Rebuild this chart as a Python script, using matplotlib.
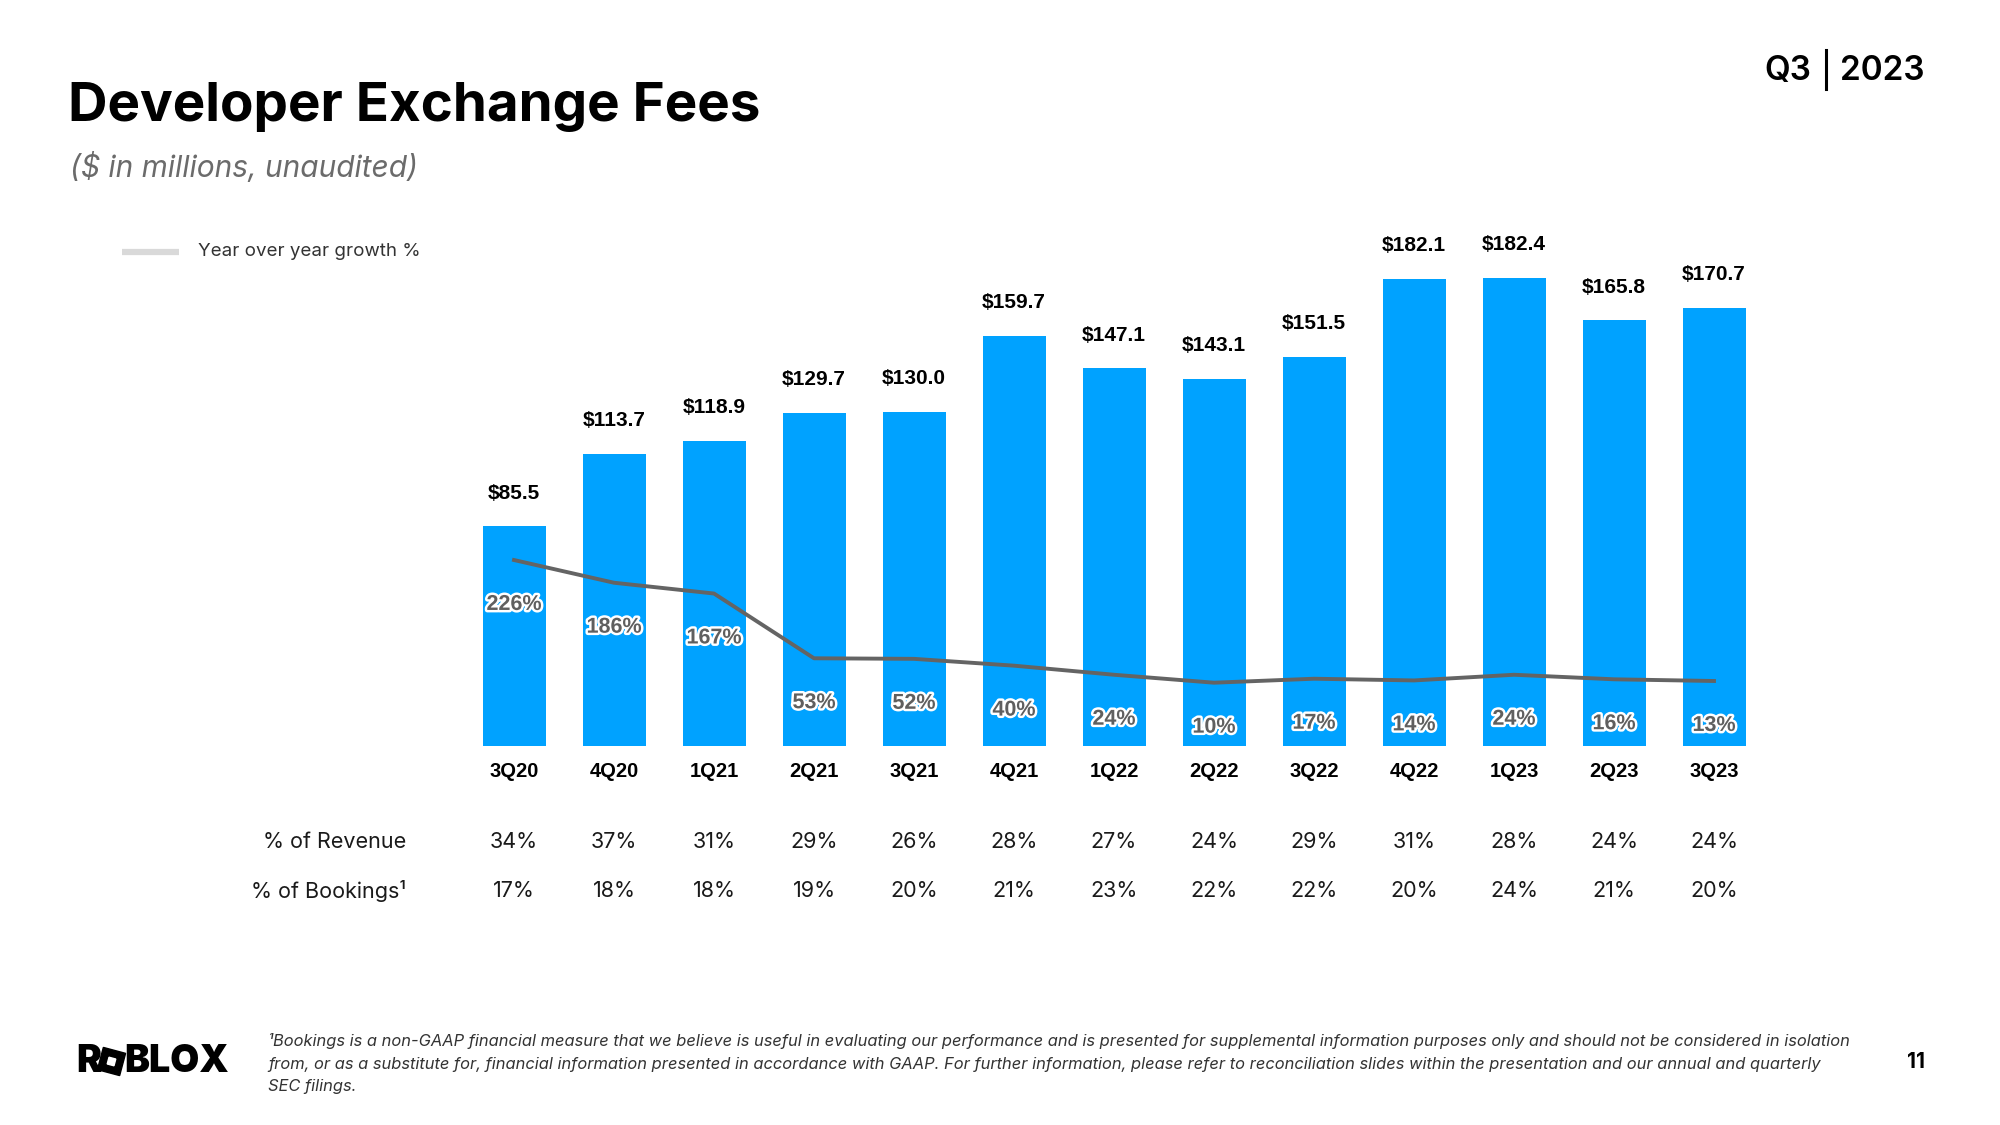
import matplotlib
matplotlib.use("Agg")
import matplotlib.pyplot as plt
import matplotlib.patheffects as pe
import matplotlib.transforms as mtransforms
from matplotlib.patches import Rectangle

# data
quarters = ["3Q20", "4Q20", "1Q21", "2Q21", "3Q21", "4Q21", "1Q22",
            "2Q22", "3Q22", "4Q22", "1Q23", "2Q23", "3Q23"]
fees = [85.5, 113.7, 118.9, 129.7, 130.0, 159.7, 147.1,
        143.1, 151.5, 182.1, 182.4, 165.8, 170.7]
yoy_growth = [226, 186, 167, 53, 52, 40, 24, 10, 17, 14, 24, 16, 13]
pct_revenue = ["34%", "37%", "31%", "29%", "26%", "28%", "27%",
               "24%", "29%", "31%", "28%", "24%", "24%"]
pct_bookings = ["17%", "18%", "18%", "19%", "20%", "21%", "23%",
                "22%", "22%", "20%", "24%", "21%", "20%"]

footnote = [
    "\u00b9Bookings is a non-GAAP financial measure that we believe is useful in evaluating our performance and is presented for supplemental information purposes only and should not be considered in isolation",
    "from, or as a substitute for, financial information presented in accordance with GAAP. For further information, please refer to reconciliation slides within the presentation and our annual and quarterly",
    "SEC filings.",
]

BLUE = "#00A2FF"
LINE_GREY = "#646464"

plt.rcParams["font.family"] = ["Inter", "DejaVu Sans"]

fig = plt.figure(figsize=(20, 11.25), dpi=100)
fig.set_facecolor("white")

# page overlay in pixel units (y down) for the slide furniture
page = fig.add_axes([0, 0, 1, 1])
page.set_xlim(0, 2000)
page.set_ylim(1125, 0)
page.axis("off")

# chart area
ax = fig.add_axes([464 / 2000, 0.33716, 1300 / 2000, 0.456])
x = list(range(len(quarters)))
ax.bar(x, fees, width=0.63, color=BLUE, zorder=2)
ax.set_xlim(-0.5, len(quarters) - 0.5)
ax.set_ylim(0, 200)
for s in ax.spines.values():
    s.set_visible(False)
ax.set_yticks([])
ax.set_xticks(x)
ax.set_xticklabels(quarters, fontfamily="Liberation Sans", fontweight="bold",
                   fontsize=14.5, color="black")
ax.tick_params(axis="x", length=0, pad=12)

for xi, v in zip(x, fees):
    ax.annotate(f"${v:.1f}", (xi, v), xytext=(0, 24), textcoords="offset points",
                ha="center", va="center", fontfamily="Liberation Sans",
                fontweight="bold", fontsize=15, color="black")

# growth line on its own scale
ax2 = ax.twinx()
ax2.set_ylim(-100.9, 802.3)
ax2.axis("off")
ax2.plot(x, yoy_growth, color=LINE_GREY, lw=2.8, zorder=3)
for xi, g in zip(x, yoy_growth):
    ax2.annotate(f"{g}%", (xi, g), xytext=(0, -32), textcoords="offset points",
                 ha="center", va="center", fontfamily="Liberation Sans",
                 fontweight="bold", fontsize=15.5, color="#5f5f5f",
                 path_effects=[pe.withStroke(linewidth=3.5, foreground="white")])

# table rows below the chart
row_tf = mtransforms.blended_transform_factory(ax.transData, page.transData)
page.text(406, 842, "% of Revenue", ha="right", va="center", fontsize=15.5, color="#1a1a1a")
page.text(406, 891, "% of Bookings\u00b9", ha="right", va="center", fontsize=15.5, color="#1a1a1a")
for xi, r, b in zip(x, pct_revenue, pct_bookings):
    fig.text(xi, 842, r, transform=row_tf, ha="center", va="center",
             fontsize=15.5, color="#1a1a1a")
    fig.text(xi, 891, b, transform=row_tf, ha="center", va="center",
             fontsize=15.5, color="#1a1a1a")

# titles
page.text(68, 107, "Developer Exchange Fees", ha="left", va="center",
          fontsize=39.4, fontweight="bold", color="black")
page.text(70, 168, "($ in millions, unaudited)", ha="left", va="center",
          fontsize=21.5, fontstyle="italic", color="#6b6b6b")

# legend
page.plot([122, 179], [252, 252], color="#d9d9d9", lw=4.5, solid_capstyle="butt")
page.text(198, 251, "Year over year growth %", ha="left", va="center",
          fontsize=13.5, color="#333333")

# Q3 | 2023
page.text(1811, 71, "Q3", ha="right", va="center", fontsize=24, fontweight="semibold")
page.plot([1826, 1826], [50, 89], color="black", lw=2.2)
page.text(1840, 71, "2023", ha="left", va="center", fontsize=24, fontweight="semibold")

# footnote
for i, line in enumerate(footnote):
    page.text(268, 1041 + 23 * i, line, ha="left", va="center", fontsize=11.85,
              fontstyle="italic", color="#333333")

# page number
page.text(1925, 1062, "11", ha="right", va="center", fontsize=15, fontweight="bold")

# roblox wordmark
page.text(76, 1062, "R", ha="left", va="center", fontsize=27, fontweight="black")
sq = Rectangle((100, 1050), 23, 23, color="black")
sq.set_transform(mtransforms.Affine2D().rotate_deg_around(111.5, 1061.5, 15) + page.transData)
page.add_patch(sq)
hole = Rectangle((108, 1058), 7, 7, color="white")
hole.set_transform(mtransforms.Affine2D().rotate_deg_around(111.5, 1061.5, 15) + page.transData)
page.add_patch(hole)
page.text(124, 1062, "BLOX", ha="left", va="center", fontsize=27, fontweight="black")

fig.savefig("out.png", dpi=100, facecolor="white")
